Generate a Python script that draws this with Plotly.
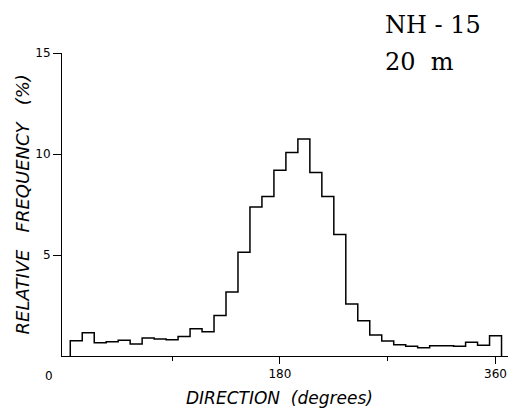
import plotly.graph_objects as go

# Current direction histogram, 10-degree bins centred on 10, 20, ..., 360
bin_centers = list(range(10, 361, 10))
rel_freq = [0.75, 1.15, 0.66, 0.71, 0.78, 0.60, 0.89, 0.84, 0.81, 0.96,
            1.35, 1.20, 2.00, 3.17, 5.13, 7.38, 7.89, 9.19, 10.07, 10.74,
            9.08, 7.89, 6.02, 2.57, 1.75, 1.04, 0.74, 0.56, 0.48, 0.41,
            0.51, 0.51, 0.48, 0.68, 0.53, 1.00]
bin_width = 10
x_tick_vals = [180, 360]
x_tick_text = ["180", "360"]
x_minor_vals = [90, 270]
y_tick_vals = [5, 10, 15]
station = "NH - 15"
depth = "20  m"

# Build the outline of the histogram as a stepped line
left_edges = [c - bin_width / 2 for c in bin_centers]
right_edge = bin_centers[-1] + bin_width / 2
step_x = [left_edges[0]] + left_edges + [right_edge, right_edge]
step_y = [0] + rel_freq + [rel_freq[-1], 0]

fig = go.Figure()
fig.add_trace(go.Scatter(
    x=step_x, y=step_y, mode="lines", line_shape="hv",
    line=dict(color="black", width=1.5), hoverinfo="skip",
))

tick_font = dict(family="DejaVu Sans", size=12, color="black")
title_font = dict(family="DejaVu Sans", size=17, color="black")
ytitle_font = dict(family="DejaVu Sans", size=18, color="black")
label_font = dict(family="DejaVu Serif", size=24, color="black")

fig.update_layout(
    width=514, height=413,
    margin=dict(l=62, r=6, t=53, b=57),
    paper_bgcolor="white", plot_bgcolor="white",
    showlegend=False,
    xaxis=dict(
        range=[-1.9, 370.4], showgrid=False, zeroline=False,
        showline=True, linecolor="black", linewidth=1,
        tickmode="array", tickvals=x_tick_vals, ticktext=x_tick_text,
        ticks="outside", ticklen=7, tickcolor="black", tickwidth=1,
        tickfont=tick_font,
        minor=dict(tickmode="array", tickvals=x_minor_vals, ticks="outside",
                   ticklen=4, tickcolor="black", tickwidth=1),
    ),
    yaxis=dict(
        range=[0, 15], showgrid=False, zeroline=False,
        showline=True, linecolor="black", linewidth=1,
        tickmode="array", tickvals=y_tick_vals,
        ticks="outside", ticklen=8, tickcolor="black", tickwidth=1,
        tickfont=tick_font,
    ),
)

# Axis titles, origin label and station/depth labels
fig.add_annotation(x=0, y=0, xref="x", yref="y", text="0", showarrow=False,
                   xshift=-15, yshift=-20, xanchor="center", yanchor="middle",
                   font=tick_font)
fig.add_annotation(x=180, y=0, xref="x", yref="y",
                   text="<i>DIRECTION  (degrees)</i>", showarrow=False,
                   yshift=-42, xanchor="center", yanchor="middle",
                   font=title_font)
fig.add_annotation(x=0, y=0.5, xref="paper", yref="paper",
                   text="<i>RELATIVE   FREQUENCY   (%)</i>", showarrow=False,
                   textangle=-90, xshift=-40, xanchor="center", yanchor="middle",
                   font=ytitle_font)
fig.add_annotation(x=(383 - 62) / 446, y=(356 - 25) / 303, xref="paper", yref="paper",
                   text=station, showarrow=False, xanchor="left", yanchor="middle",
                   font=label_font)
fig.add_annotation(x=(383 - 62) / 446, y=(356 - 62) / 303, xref="paper", yref="paper",
                   text=depth, showarrow=False, xanchor="left", yanchor="middle",
                   font=label_font)

fig.write_html("out.html")
